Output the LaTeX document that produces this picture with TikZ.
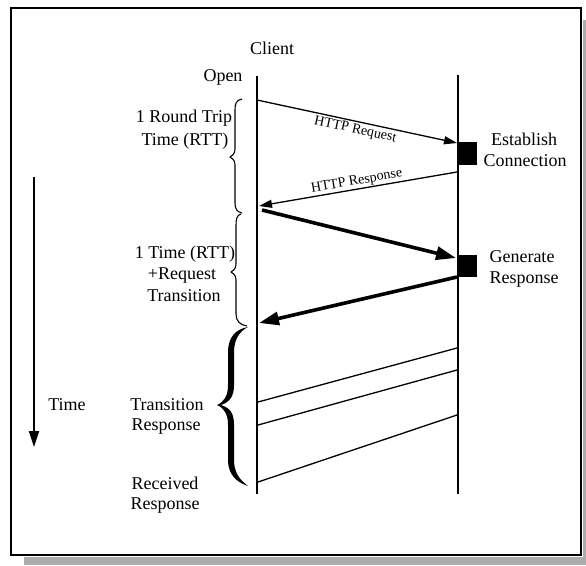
\documentclass[tikz,border=0pt]{standalone}
\usepackage{fontspec}
\setmainfont{Liberation Serif}
\usetikzlibrary{arrows.meta}

\begin{document}
\begin{tikzpicture}[x=1pt,y=-1pt,
  lbl/.style={font=\fontsize{18}{21}\selectfont, inner sep=0pt, anchor=base},
  msg/.style={font=\fontsize{14}{16}\selectfont, inner sep=2pt},
  lifeline/.style={line width=2.5pt},
  thinmsg/.style={line width=1.3pt, -{Triangle[length=13pt,width=8pt]}},
  thickmsg/.style={line width=3.6pt, -{Triangle[length=20pt,width=13pt]}},
  plainmsg/.style={line width=1.3pt},
  stepbox/.style={fill=black, draw=none, minimum width=20pt, minimum height=23pt, inner sep=0pt},
  brace/.style={line width=1.1pt, line join=round}]

\useasboundingbox (0,0) rectangle (586,565);

% drop shadow and frame
\fill[gray!65] (24,557) rectangle (586,565);
\fill[gray!65] (582.5,20) rectangle (586,565);
\draw[line width=1.5pt, fill=white] (11,8) rectangle (581,555);

% lifelines
\coordinate (ctop) at (257,76);
\coordinate (cbot) at (257,494);
\coordinate (stop) at (458,75);
\coordinate (sbot) at (458,494);
\draw[lifeline] (ctop) -- (cbot);
\draw[lifeline] (stop) -- (sbot);

% server processing blocks
\node[stepbox] (estbox) at (467,153.5) {};
\node[stepbox, minimum height=22pt] (genbox) at (467,266) {};

% event points on the lifelines
\coordinate (c1) at (257,100);
\coordinate (s1) at (457,143);
\coordinate (s2) at (457,172);
\coordinate (c2) at (259,206);
\coordinate (c3) at (262,210);
\coordinate (s3) at (456,258);
\coordinate (s4) at (457,277);
\coordinate (c4) at (259,323);
\coordinate (s5) at (457,348);
\coordinate (c5) at (258,402);
\coordinate (s6) at (457,370);
\coordinate (c6) at (258,425);
\coordinate (s7) at (457,415);
\coordinate (c7) at (258,482);

% messages
\draw[thinmsg] (c1) -- node[msg, sloped, below] (req) {HTTP Request} (s1);
\draw[thinmsg] (s2) -- node[msg, sloped, above, inner sep=1pt] (resp) {HTTP Response} (c2);
\draw[thickmsg] (c3) -- (s3);
\draw[thickmsg] (s4) -- (c4);
\draw[plainmsg] (s5) -- (c5);
\draw[plainmsg] (s6) -- (c6);
\draw[plainmsg] (s7) -- (c7);

% time axis
\coordinate (t0) at (34,177);
\coordinate (t1) at (34,447);
\draw[line width=2pt, -{Triangle[length=16pt,width=10pt]}] (t0) -- (t1);

% braces
\draw[brace] (242,99) .. controls (236,100) and (235,104) .. (235,110)
  -- (235,149) .. controls (235,154) and (232,156) .. (230,157)
  .. controls (232,158) and (235,160) .. (235,165)
  -- (235,203) .. controls (235,209) and (237,212) .. (242,213);
\draw[brace] (241,214) .. controls (237,215) and (236,219) .. (236,225)
  -- (236,264) .. controls (236,269) and (233,271) .. (231,272)
  .. controls (233,273) and (236,275) .. (236,280)
  -- (236,314) .. controls (236,321) and (240,325) .. (247,326);
\fill (248,327) .. controls (236,329) and (228,337) .. (228,352)
  -- (228,385) .. controls (228,396) and (224,402) .. (217,405)
  .. controls (224,408) and (228,414) .. (228,425)
  -- (228,460) .. controls (228,474) and (236,482) .. (248,486)
  .. controls (240,480) and (234,473) .. (234,460)
  -- (234,425) .. controls (234,413) and (230,408) .. (221,405)
  .. controls (230,402) and (234,396) .. (234,385)
  -- (234,352) .. controls (234,339) and (240,331) .. (248,327) -- cycle;

% labels
\node[lbl] (client) at (272,54) {Client};
\node[lbl] (open) at (223,81) {Open};
\node[lbl] (rtt1a) at (184,122) {1 Round Trip};
\node[lbl] (rtt1b) at (185,145) {Time (RTT)};
\node[lbl] (rtt2a) at (185,258) {1 Time (RTT)};
\node[lbl] (rtt2b) at (182,279) {+Request};
\node[lbl] (rtt2c) at (184,301) {Transition};
\node[lbl] (esta) at (524,145) {Establish};
\node[lbl] (estb) at (525,166) {Connection};
\node[lbl] (gena) at (522,262) {Generate};
\node[lbl] (genb) at (524,283) {Response};
\node[lbl] (time) at (67,410) {Time};
\node[lbl] (tra) at (167,410) {Transition};
\node[lbl] (trb) at (166,430) {Response};
\node[lbl] (reca) at (165,489) {Received};
\node[lbl] (recb) at (165,509) {Response};

\end{tikzpicture}
\end{document}
